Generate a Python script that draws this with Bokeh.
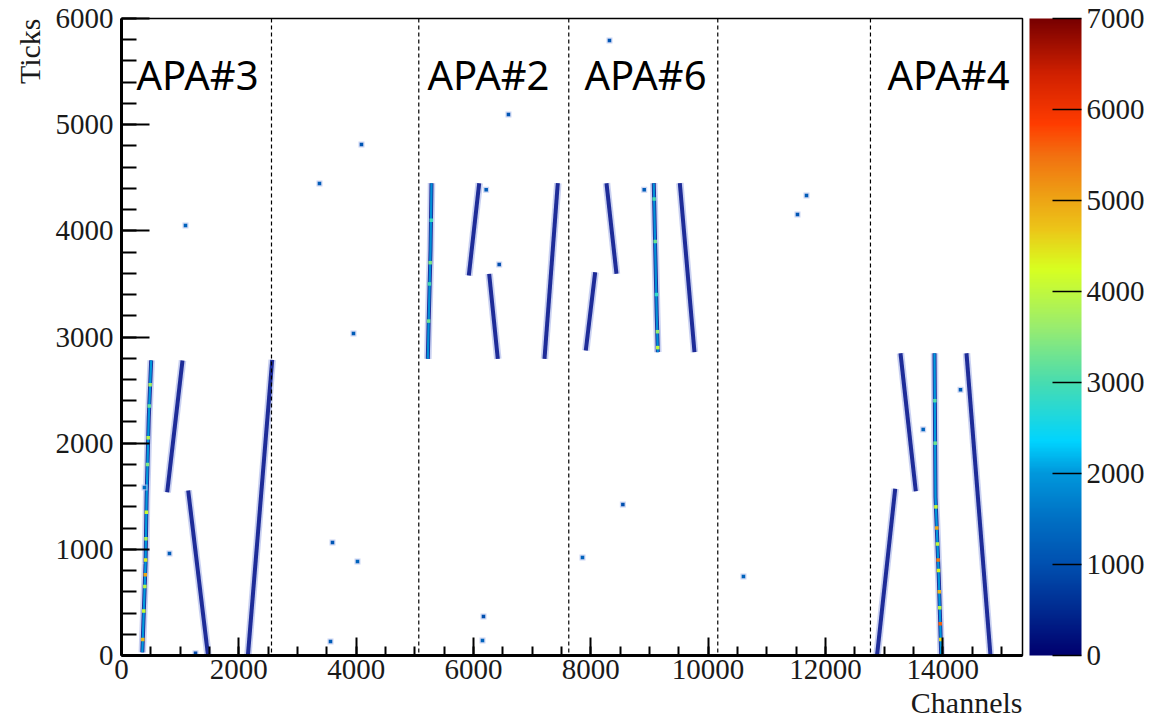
import numpy as np
from bokeh.plotting import figure
from bokeh.models import (ColumnDataSource, LinearColorMapper, ColorBar, FixedTicker,
                          SingleIntervalTicker, Span, Title)
from bokeh.core.properties import value
from bokeh.transform import transform
from bokeh.embed import file_html
from bokeh.resources import INLINE

# ---------------- data ----------------
# hit tracks: polyline vertices (channel, tick), plane type
track_channels = [
    [355, 410, 428, 465, 506],          # APA#3 collection
    [779, 1040],
    [1137, 1475],
    [2155, 2569],
    [5222, 5234, 5268, 5285],           # APA#2 collection
    [5921, 6098],
    [6268, 6415],
    [7211, 7438],
    [7915, 8075],
    [8268, 8438],
    [9074, 9100, 9125, 9143],           # APA#6 collection
    [9518, 9768],
    [12880, 13190],
    [13280, 13541],
    [13860, 13877, 13933, 13974],       # APA#4 collection
    [14405, 14814],
]
track_ticks = [
    [30, 870, 1490, 2245, 2780],
    [1538, 2779],
    [1554, 0],
    [0, 2785],
    [2794, 3092, 3815, 4449],
    [3579, 4449],
    [3595, 2794],
    [2794, 4449],
    [2873, 3610],
    [4449, 3595],
    [4449, 3800, 3200, 2857],
    [4449, 2857],
    [0, 1570],
    [2847, 1547],
    [2847, 1491, 737, 0],
    [2847, 0],
]
track_plane = ["W", "I", "I", "I", "W", "I", "I", "I", "I", "I", "W", "I", "I", "I", "W", "I"]
track_charge = [2000, 650, 650, 650, 1900, 650, 650, 650, 650, 650, 1900, 650, 650, 650, 2000, 650]

# bright hits along the collection tracks
hot_channel = [363, 380, 398, 405, 411, 417, 425, 443, 455, 473, 488,
               5236, 5250, 5262, 5280,
               9080, 9098, 9120, 9137, 9141,
               13866, 13871, 13884, 13899, 13910, 13921, 13928, 13941, 13949, 13957, 13967]
hot_tick = [150, 420, 650, 760, 900, 1100, 1350, 1800, 2050, 2350, 2550,
            3150, 3500, 3700, 4100,
            4300, 3900, 3400, 3050, 2900,
            2400, 2000, 1400, 1200, 1050, 900, 800, 600, 450, 300, 150]
hot_charge = [4800, 4100, 3900, 5000, 4400, 3800, 4100, 3400, 3900, 3200, 3700,
              3300, 3000, 3400, 2900,
              3000, 3300, 2800, 3600, 4000,
              3100, 3300, 4100, 5000, 4000, 5400, 4300, 4800, 3900, 5600, 4500]

# isolated hits
dot_channel = [392, 818, 1091, 1262, 3375, 4091, 3955, 3597, 4023, 3563, 6171, 6154,
               6217, 6439, 6597, 8547, 7859, 8319, 8911, 10603, 11524, 11678, 13667, 14303]
dot_tick = [1582, 961, 4050, 22, 4446, 4813, 3033, 1064, 885, 132, 367, 141,
            4386, 3683, 5096, 1422, 923, 5793, 4386, 744, 4154, 4333, 2129, 2503]
dot_charge = [1400, 1200, 1300, 900, 1200, 1100, 1200, 1100, 1300, 1200, 1000, 1300,
              1200, 1000, 1100, 1000, 1300, 1100, 1200, 1300, 1100, 1200, 1300, 1200]

# APA boundaries (hand-drawn dashed lines) and labels
boundary_channels = [2557, 5068, 7625, 10165, 12768]
apa_names = ["APA#3", "APA#2", "APA#6", "APA#4"]
apa_label_channel = [256, 5216, 7893, 13058]
apa_label_tick = [5472, 5472, 5472, 5472]

colorbar_ticks = [0, 1000, 2000, 3000, 4000, 5000, 6000, 7000]

# ---------------- colour palette ----------------
stops = [(0, "#00006e"), (500, "#002a90"), (1000, "#0050b0"), (1500, "#0070c4"),
         (2000, "#0098dc"), (2350, "#00d4ff"), (3000, "#48dcb0"), (3600, "#98ec70"),
         (4250, "#d8ff20"), (4700, "#ecc418"), (5100, "#ee9c14"), (5500, "#f27010"),
         (5850, "#ff3c00"), (6400, "#d02000"), (7000, "#780000")]
sv = np.array([s[0] for s in stops], dtype=float)
rgb = np.array([[int(c[1:3], 16), int(c[3:5], 16), int(c[5:7], 16)] for _, c in stops], dtype=float)
grid = np.linspace(0, 7000, 256)
palette = []
for g in grid:
    r = np.interp(g, sv, rgb[:, 0]); gg = np.interp(g, sv, rgb[:, 1]); b = np.interp(g, sv, rgb[:, 2])
    palette.append("#%02x%02x%02x" % (int(round(r)), int(round(gg)), int(round(b))))
mapper = LinearColorMapper(palette=palette, low=0, high=7000)

# ---------------- figure ----------------
p = figure(frame_width=901, frame_height=637, x_range=(0, 15360), y_range=(0, 6000),
           output_backend="svg", toolbar_location=None,
           min_border_left=121, min_border_top=18, min_border_bottom=71, min_border_right=0,
           background_fill_color="white", border_fill_color="white")
p.grid.visible = False
p.outline_line_color = "black"
p.outline_line_width = 1.5

for ax in (p.xaxis, p.yaxis):
    ax.axis_line_width = 3
    ax.axis_line_color = "black"
    ax.major_tick_out = 0
    ax.minor_tick_out = 0
    ax.major_tick_line_width = 2
    ax.minor_tick_line_width = 2
    ax.major_tick_line_color = "black"
    ax.minor_tick_line_color = "black"
    ax.major_label_text_font = "Liberation Serif"
    ax.major_label_text_font_size = "29px"
    ax.major_label_text_color = "#1a1a1a"
p.xaxis.ticker = SingleIntervalTicker(interval=2000, num_minor_ticks=4)
p.yaxis.ticker = SingleIntervalTicker(interval=1000, num_minor_ticks=5)
p.xaxis.major_tick_in = 18
p.xaxis.minor_tick_in = 9
p.yaxis.major_tick_in = 28
p.yaxis.minor_tick_in = 15
p.xaxis.major_label_standoff = 4
p.yaxis.major_label_standoff = 8

# tracks
tr_src = ColumnDataSource(dict(xs=track_channels, ys=track_ticks, q=track_charge, plane=track_plane))
w_idx = [i for i, pl in enumerate(track_plane) if pl == "W"]
w_src = ColumnDataSource(dict(xs=[track_channels[i] for i in w_idx],
                              ys=[track_ticks[i] for i in w_idx],
                              q=[track_charge[i] for i in w_idx]))
p.multi_line(xs="xs", ys="ys", source=tr_src, line_color="#b8c2ec", line_width=7.5, line_alpha=0.75)
p.multi_line(xs="xs", ys="ys", source=tr_src, line_color="#1e2c98", line_width=4)
p.multi_line(xs="xs", ys="ys", source=w_src, line_color=transform("q", mapper), line_width=2.2)

hot_src = ColumnDataSource(dict(x=hot_channel, y=hot_tick, q=hot_charge))
p.scatter(x="x", y="y", source=hot_src, marker="square", size=3.5,
          fill_color=transform("q", mapper), line_color=None)

dot_src = ColumnDataSource(dict(x=dot_channel, y=dot_tick, q=dot_charge))
p.scatter(x="x", y="y", source=dot_src, marker="square", size=6, fill_color="#b8c4ee",
          line_color=None, fill_alpha=0.7)
p.scatter(x="x", y="y", source=dot_src, marker="square", size=3.5,
          fill_color=transform("q", mapper), line_color=None)

for bx in boundary_channels:
    p.add_layout(Span(location=bx, dimension="height", line_color="black",
                      line_width=1.2, line_dash="4 3"))

p.text(x=apa_label_channel, y=apa_label_tick, text=apa_names,
       text_font=value("Noto Sans"), text_font_size="40px", text_color="black",
       text_align="left", text_baseline="alphabetic")

# axis titles (ROOT style: at the end of the axis)
p.add_layout(Title(text="Channels", align="right", text_font="Liberation Serif",
                   text_font_size="30px", text_font_style="normal", text_color="#1a1a1a",
                   standoff=4), "below")
p.add_layout(Title(text="Ticks", align="right", text_font="Liberation Serif",
                   text_font_size="30px", text_font_style="normal", text_color="#1a1a1a",
                   standoff=14), "left")

cb = ColorBar(color_mapper=mapper, ticker=FixedTicker(ticks=colorbar_ticks),
              width=52, height=637, padding=0, margin=0, location=(7, 0),
              major_tick_in=29, major_tick_out=0, major_tick_line_color="black",
              major_tick_line_width=1.5, minor_tick_line_color=None,
              major_label_text_font="Liberation Serif", major_label_text_font_size="29px",
              major_label_text_color="#1a1a1a", label_standoff=5,
              bar_line_color=None, border_line_color=None, background_fill_color=None)
p.add_layout(cb, "right")

open("out.html", "w").write(file_html(p, INLINE))
